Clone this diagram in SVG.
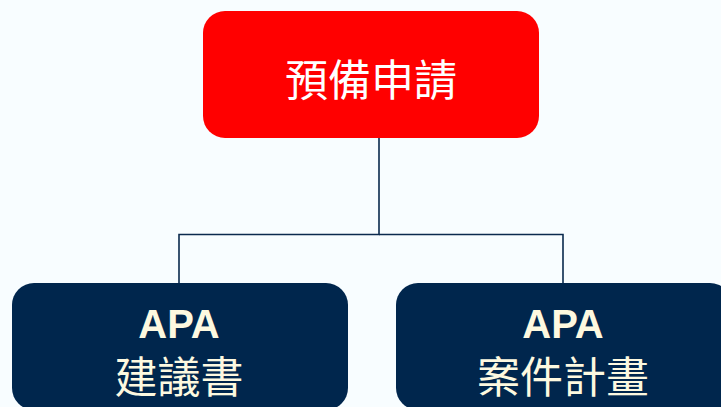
<svg xmlns="http://www.w3.org/2000/svg" width="721" height="407" viewBox="0 0 721 407">
<style>
.cjk{font-family:"Noto Sans CJK TC","Noto Sans CJK SC",sans-serif;font-size:43px;text-anchor:middle}
.lat{font-family:"Liberation Sans",Arial,sans-serif;font-weight:bold;font-size:40px;text-anchor:middle}
.conn{fill:none;stroke:#0B2A4E;stroke-width:1.6}
.navy{fill:#00264D}
.cream{fill:#FDF9E0}
</style>
<rect width="721" height="407" fill="#F8FDFF"/>
<g id="connectors">
<polyline class="conn" points="379,138 379,234.5 179,234.5 179,283"/>
<polyline class="conn" points="379,234.5 563,234.5 563,283"/>
</g>
<g id="node-top">
<rect x="203" y="11" width="336" height="127" rx="22" fill="#FF0000"/>
<text class="cjk" x="371" y="96" fill="#FFFFFF">預備申請</text>
</g>
<g id="node-left">
<rect class="navy" x="12" y="283" width="336" height="127" rx="22"/>
<text class="lat cream" x="179" y="338">APA</text>
<text class="cjk cream" x="179" y="393">建議書</text>
</g>
<g id="node-right">
<rect class="navy" x="396" y="283" width="336" height="127" rx="22"/>
<text class="lat cream" x="563" y="338">APA</text>
<text class="cjk cream" x="563" y="393">案件計畫</text>
</g>
</svg>
